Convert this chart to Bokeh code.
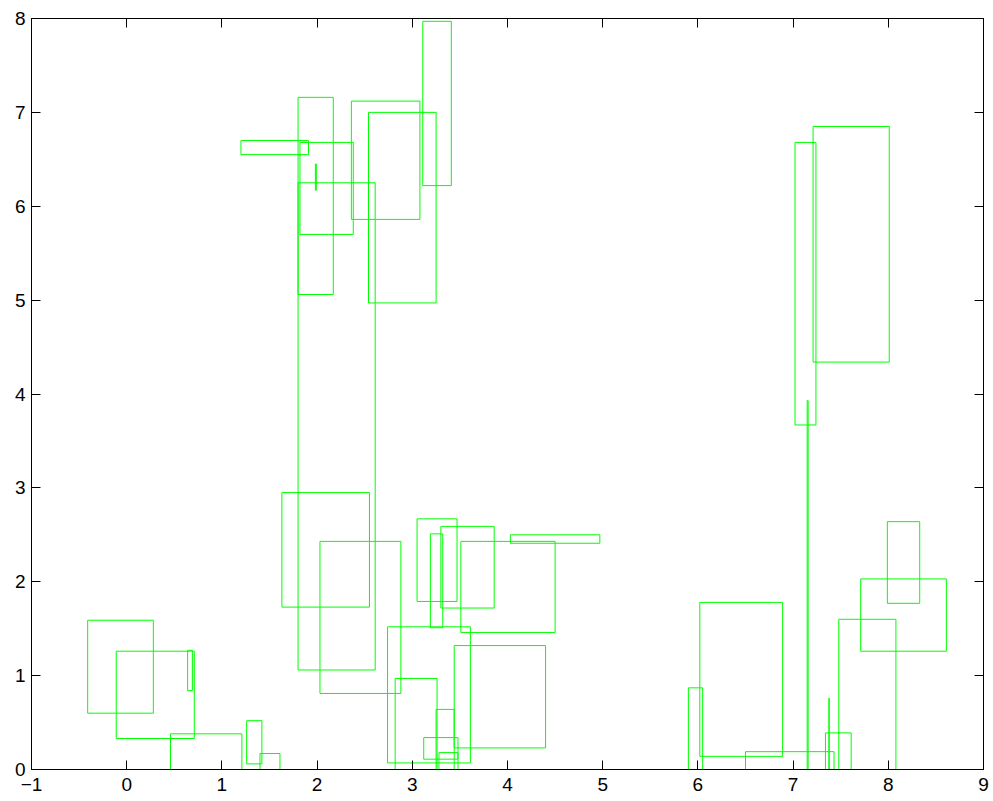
from bokeh.plotting import figure
from bokeh.models import Range1d, LinearAxis, FixedTicker, ColumnDataSource
from bokeh.embed import file_html
from bokeh.resources import INLINE

# Rectangles: left, right, bottom, top (data units)
x0 = [1.20, 1.80, 1.82, 1.982, 1.80, 2.36, 2.54, 3.11,
      7.02, 7.21, 7.148, 7.376, 4.03, 3.51, 3.44, 5.90,
      6.02, 6.50, 7.34, 7.48, 7.71, 7.99, -0.41, -0.11,
      0.64, 0.46, 1.26, 1.40, 1.63, 2.03, 2.74, 2.82,
      3.05, 3.19, 3.30, 3.25, 3.12, 3.28]
x1 = [1.91, 2.17, 2.38, 1.992, 2.61, 3.08, 3.25, 3.41,
      7.24, 8.01, 7.158, 7.379, 4.97, 4.50, 4.40, 6.05,
      6.89, 7.43, 7.61, 8.08, 8.61, 8.33, 0.28, 0.71,
      0.69, 1.21, 1.42, 1.61, 2.55, 2.88, 3.61, 3.26,
      3.47, 3.32, 3.86, 3.44, 3.48, 3.48]
y0 = [6.55, 5.06, 5.70, 6.17, 1.06, 5.86, 4.97, 6.22,
      3.67, 4.34, 0.00, 0.00, 2.41, 1.46, 0.23, 0.00,
      0.14, 0.00, 0.00, 0.00, 1.26, 1.77, 0.60, 0.33,
      0.84, 0.00, 0.06, 0.00, 1.73, 0.81, 0.07, 0.00,
      1.79, 1.51, 1.72, 0.00, 0.11, 0.00]
y1 = [6.70, 7.16, 6.68, 6.45, 6.25, 7.12, 7.00, 7.97,
      6.68, 6.85, 3.93, 0.76, 2.50, 2.43, 1.32, 0.87,
      1.78, 0.19, 0.39, 1.60, 2.03, 2.64, 1.59, 1.26,
      1.27, 0.38, 0.52, 0.17, 2.95, 2.43, 1.52, 0.97,
      2.67, 2.51, 2.59, 0.64, 0.34, 0.18]

x_ticks = [-1, 0, 1, 2, 3, 4, 5, 6, 7, 8, 9]
y_ticks = [0, 1, 2, 3, 4, 5, 6, 7, 8]

src = ColumnDataSource(dict(left=x0, right=x1, bottom=y0, top=y1))

p = figure(frame_width=952, frame_height=751,
           x_range=Range1d(-1, 9), y_range=Range1d(0, 8),
           output_backend="svg", toolbar_location=None,
           min_border_left=31, min_border_top=18, min_border_right=10,
           min_border_bottom=20)
p.grid.visible = False
p.outline_line_color = "black"
p.background_fill_color = "white"

p.quad(left="left", right="right", bottom="bottom", top="top", source=src,
       fill_color=None, line_color="#00ff00", line_width=1)

FONT = "Liberation Sans"
for ax, ticks in ((p.xaxis[0], x_ticks), (p.yaxis[0], y_ticks)):
    ax.ticker = FixedTicker(ticks=ticks)
    ax.major_tick_in = 9
    ax.major_tick_out = 0
    ax.minor_tick_line_color = None
    ax.axis_line_color = "black"
    ax.major_tick_line_color = "black"
    ax.major_label_text_font = FONT
    ax.major_label_text_font_size = "19px"
    ax.major_label_text_color = "black"
    ax.major_label_text_font_style = "normal"
p.xaxis[0].major_label_overrides = {-1: "\u22121"}
p.xaxis[0].major_label_standoff = 8
p.yaxis[0].major_label_standoff = 6

top_ax = LinearAxis(ticker=FixedTicker(ticks=x_ticks), major_tick_in=9, major_tick_out=0,
                    minor_tick_line_color=None,
                    major_label_overrides={t: "" for t in x_ticks},
                    major_label_standoff=0, axis_line_color="black")
right_ax = LinearAxis(ticker=FixedTicker(ticks=y_ticks), major_tick_in=9, major_tick_out=0,
                      minor_tick_line_color=None,
                      major_label_overrides={t: "" for t in y_ticks},
                      major_label_standoff=0, axis_line_color="black")
p.add_layout(top_ax, "above")
p.add_layout(right_ax, "right")

open("out.html", "w").write(file_html(p, INLINE))
